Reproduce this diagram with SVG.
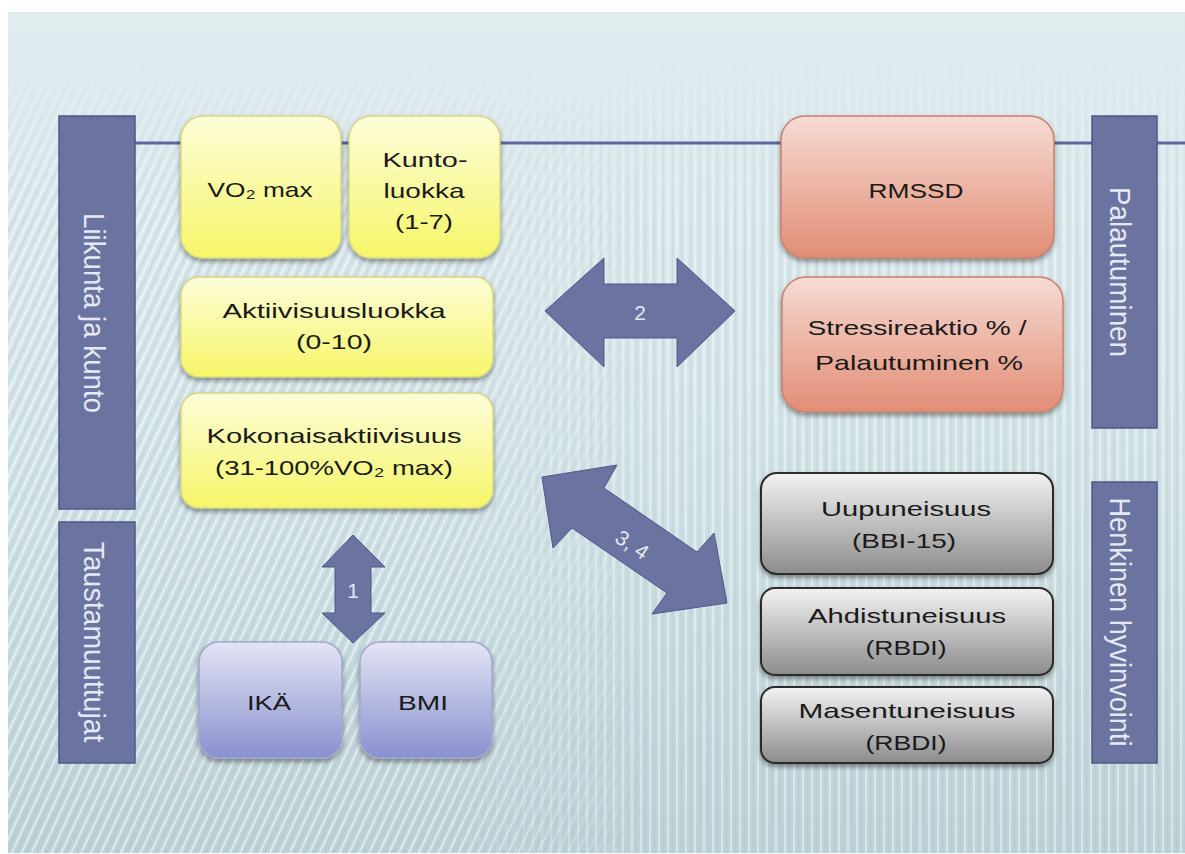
<svg xmlns="http://www.w3.org/2000/svg" width="1185" height="854" viewBox="0 0 1185 854">
<defs>
  <linearGradient id="bg" x1="0" y1="0" x2="0" y2="1">
    <stop offset="0" stop-color="#e1ecef"/>
    <stop offset="0.5" stop-color="#d3e4e8"/>
    <stop offset="1" stop-color="#bdd2d7"/>
  </linearGradient>
  <linearGradient id="fade" x1="0" y1="0" x2="0" y2="1">
    <stop offset="0" stop-color="#000"/>
    <stop offset="0.07" stop-color="#000"/>
    <stop offset="0.25" stop-color="#fff"/>
    <stop offset="1" stop-color="#fff"/>
  </linearGradient>
  <linearGradient id="hLeft" x1="0" y1="0" x2="1" y2="0">
    <stop offset="0" stop-color="#fff"/>
    <stop offset="0.38" stop-color="#fff"/>
    <stop offset="0.55" stop-color="#000"/>
    <stop offset="1" stop-color="#000"/>
  </linearGradient>
  <linearGradient id="hRight" x1="0" y1="0" x2="1" y2="0">
    <stop offset="0" stop-color="#000"/>
    <stop offset="0.38" stop-color="#000"/>
    <stop offset="0.55" stop-color="#fff"/>
    <stop offset="1" stop-color="#fff"/>
  </linearGradient>
  <mask id="fadeMask" maskUnits="userSpaceOnUse" x="0" y="0" width="1185" height="854">
    <rect x="0" y="0" width="1185" height="854" fill="url(#fade)"/>
  </mask>
  <mask id="leftMask" maskUnits="userSpaceOnUse" x="0" y="0" width="1185" height="854">
    <rect x="0" y="0" width="1185" height="854" fill="url(#hLeft)"/>
  </mask>
  <mask id="rightMask" maskUnits="userSpaceOnUse" x="0" y="0" width="1185" height="854">
    <rect x="0" y="0" width="1185" height="854" fill="url(#hRight)"/>
  </mask>
  <pattern id="diag" patternUnits="userSpaceOnUse" width="9" height="9" patternTransform="rotate(25)">
    <line x1="2" y1="0" x2="2" y2="9" stroke="#ffffff" stroke-opacity="0.5" stroke-width="2"/>
    <line x1="6.5" y1="0" x2="6.5" y2="9" stroke="#9fb9bf" stroke-opacity="0.3" stroke-width="1.5"/>
  </pattern>
  <pattern id="vert" patternUnits="userSpaceOnUse" width="9" height="9">
    <line x1="2" y1="0" x2="2" y2="9" stroke="#ffffff" stroke-opacity="0.4" stroke-width="2"/>
    <line x1="6.5" y1="0" x2="6.5" y2="9" stroke="#9fb9bf" stroke-opacity="0.25" stroke-width="1.5"/>
  </pattern>
  <linearGradient id="gYellow" x1="0" y1="0" x2="0" y2="1">
    <stop offset="0" stop-color="#fdfdda"/>
    <stop offset="1" stop-color="#f6f668"/>
  </linearGradient>
  <linearGradient id="gSalmon" x1="0" y1="0" x2="0" y2="1">
    <stop offset="0" stop-color="#f6dbd3"/>
    <stop offset="1" stop-color="#e28d75"/>
  </linearGradient>
  <linearGradient id="gGray" x1="0" y1="0" x2="0" y2="1">
    <stop offset="0" stop-color="#f3f3f3"/>
    <stop offset="1" stop-color="#8c8c8c"/>
  </linearGradient>
  <linearGradient id="gPurple" x1="0" y1="0" x2="0" y2="1">
    <stop offset="0" stop-color="#e4e4f4"/>
    <stop offset="1" stop-color="#8890cf"/>
  </linearGradient>
  <filter id="shadow" x="-10%" y="-10%" width="120%" height="130%">
    <feDropShadow dx="0" dy="3" stdDeviation="2.5" flood-color="#000" flood-opacity="0.4"/>
  </filter>
  <style>
    .t { font-family: "Liberation Sans", Arial, sans-serif; font-size: 21px; fill: #1a1a1a; text-anchor: middle; }
    .bt { font-family: "Liberation Sans", Arial, sans-serif; font-size: 23px; fill: #e6e8f3; text-anchor: middle; }
    .at { font-family: "Liberation Sans", Arial, sans-serif; font-size: 21px; fill: #e4e8f4; text-anchor: middle; }
    .bar { fill: #6b73a0; stroke: #4e5788; stroke-width: 1.5; }
    .yellow { fill: url(#gYellow); stroke: #d6d683; stroke-width: 1.5; filter: url(#shadow); }
    .salmon { fill: url(#gSalmon); stroke: #c7806c; stroke-width: 1.5; filter: url(#shadow); }
    .gray { fill: url(#gGray); stroke: #2a2a2a; stroke-width: 2; filter: url(#shadow); }
    .purple { fill: url(#gPurple); stroke: #a2a7cf; stroke-width: 1.5; filter: url(#shadow); }
    .arrow { fill: #6b73a0; stroke: #4e5788; stroke-width: 1; }
  </style>
</defs>

<g id="background">
  <rect x="0" y="0" width="1185" height="854" fill="#ffffff"/>
  <rect x="8" y="12" width="1177" height="841" fill="url(#bg)"/>
  <g mask="url(#fadeMask)">
    <rect x="8" y="12" width="1177" height="841" fill="url(#diag)" mask="url(#leftMask)"/>
    <rect x="8" y="12" width="1177" height="841" fill="url(#vert)" mask="url(#rightMask)"/>
  </g>
  <line x1="135" y1="143" x2="1185" y2="143" stroke="#5c6799" stroke-width="3"/>
</g>

<g id="bar-liikunta">
  <rect class="bar" x="59" y="116" width="76" height="393"/>
  <text class="bt" transform="translate(84,313) scale(1.3,1) rotate(90)" textLength="200" lengthAdjust="spacingAndGlyphs">Liikunta ja kunto</text>
</g>
<g id="bar-taustamuuttujat">
  <rect class="bar" x="59" y="522" width="76" height="241"/>
  <text class="bt" transform="translate(84,642) scale(1.3,1) rotate(90)" textLength="201" lengthAdjust="spacingAndGlyphs">Taustamuuttujat</text>
</g>
<g id="bar-palautuminen">
  <rect class="bar" x="1092" y="116" width="65" height="312"/>
  <text class="bt" transform="translate(1110,272) scale(1.3,1) rotate(90)" textLength="170" lengthAdjust="spacingAndGlyphs">Palautuminen</text>
</g>
<g id="bar-henkinen">
  <rect class="bar" x="1092" y="482" width="65" height="281"/>
  <text class="bt" transform="translate(1110,622) scale(1.3,1) rotate(90)" textLength="249" lengthAdjust="spacingAndGlyphs">Henkinen hyvinvointi</text>
</g>

<g id="node-vo2max">
  <rect class="yellow" x="181" y="116" width="160" height="142" rx="22"/>
  <text class="t" x="260" y="197" textLength="105" lengthAdjust="spacingAndGlyphs">VO₂ max</text>
</g>
<g id="node-kuntoluokka">
  <rect class="yellow" x="349" y="116" width="151" height="142" rx="22"/>
  <text class="t" x="425" y="167" textLength="85" lengthAdjust="spacingAndGlyphs">Kunto-</text>
  <text class="t" x="424" y="198" textLength="81" lengthAdjust="spacingAndGlyphs">luokka</text>
  <text class="t" x="424" y="229" textLength="58" lengthAdjust="spacingAndGlyphs">(1-7)</text>
</g>
<g id="node-aktiivisuusluokka">
  <rect class="yellow" x="181" y="277" width="312" height="100" rx="18"/>
  <text class="t" x="334" y="318" textLength="223" lengthAdjust="spacingAndGlyphs">Aktiivisuusluokka</text>
  <text class="t" x="334" y="349" textLength="76" lengthAdjust="spacingAndGlyphs">(0-10)</text>
</g>
<g id="node-kokonaisaktiivisuus">
  <rect class="yellow" x="181" y="393" width="312" height="115" rx="18"/>
  <text class="t" x="334" y="443" textLength="255" lengthAdjust="spacingAndGlyphs">Kokonaisaktiivisuus</text>
  <text class="t" x="334" y="475" textLength="238" lengthAdjust="spacingAndGlyphs">(31-100%VO₂ max)</text>
</g>
<g id="node-ika">
  <rect class="purple" x="199" y="642" width="143" height="116" rx="20"/>
  <text class="t" x="269" y="710" textLength="44" lengthAdjust="spacingAndGlyphs">IKÄ</text>
</g>
<g id="node-bmi">
  <rect class="purple" x="360" y="642" width="132" height="116" rx="20"/>
  <text class="t" x="423" y="710" textLength="50" lengthAdjust="spacingAndGlyphs">BMI</text>
</g>
<g id="node-rmssd">
  <rect class="salmon" x="781" y="116" width="273" height="142" rx="24"/>
  <text class="t" x="916" y="198" textLength="95" lengthAdjust="spacingAndGlyphs">RMSSD</text>
</g>
<g id="node-stressireaktio">
  <rect class="salmon" x="782" y="277" width="281" height="135" rx="24"/>
  <text class="t" x="917" y="335" textLength="219" lengthAdjust="spacingAndGlyphs">Stressireaktio % /</text>
  <text class="t" x="919" y="370" textLength="208" lengthAdjust="spacingAndGlyphs">Palautuminen %</text>
</g>
<g id="node-uupuneisuus">
  <rect class="gray" x="761" y="473" width="292" height="101" rx="16"/>
  <text class="t" x="906" y="516" textLength="170" lengthAdjust="spacingAndGlyphs">Uupuneisuus</text>
  <text class="t" x="904" y="548" textLength="104" lengthAdjust="spacingAndGlyphs">(BBI-15)</text>
</g>
<g id="node-ahdistuneisuus">
  <rect class="gray" x="761" y="588" width="292" height="87" rx="14"/>
  <text class="t" x="907" y="623" textLength="198" lengthAdjust="spacingAndGlyphs">Ahdistuneisuus</text>
  <text class="t" x="906" y="655" textLength="81" lengthAdjust="spacingAndGlyphs">(RBDI)</text>
</g>
<g id="node-masentuneisuus">
  <rect class="gray" x="761" y="687" width="292" height="76" rx="14"/>
  <text class="t" x="907" y="718" textLength="217" lengthAdjust="spacingAndGlyphs">Masentuneisuus</text>
  <text class="t" x="906" y="750" textLength="81" lengthAdjust="spacingAndGlyphs">(RBDI)</text>
</g>

<g id="connectors">
  <g id="arrow-1">
    <polygon class="arrow" points="353,535 385,567 371,567 371,613 385,613 353,643 322,613 335,613 335,567 322,567"/>
    <text class="at" x="353" y="598">1</text>
  </g>
  <g id="arrow-2">
    <polygon class="arrow" points="545,311 604,258 604,284 677,284 677,258 735,311 677,367 677,338 604,338 604,367"/>
    <text class="at" x="640" y="320">2</text>
  </g>
  <g id="arrow-34">
    <polygon class="arrow" points="542,477 617,465 604,488 697,552 714,533 727,603 652,614 667,593 572,528 553,548"/>
    <text class="at" transform="translate(632,545) rotate(34)" x="0" y="7">3, 4</text>
  </g>
</g>
</svg>
